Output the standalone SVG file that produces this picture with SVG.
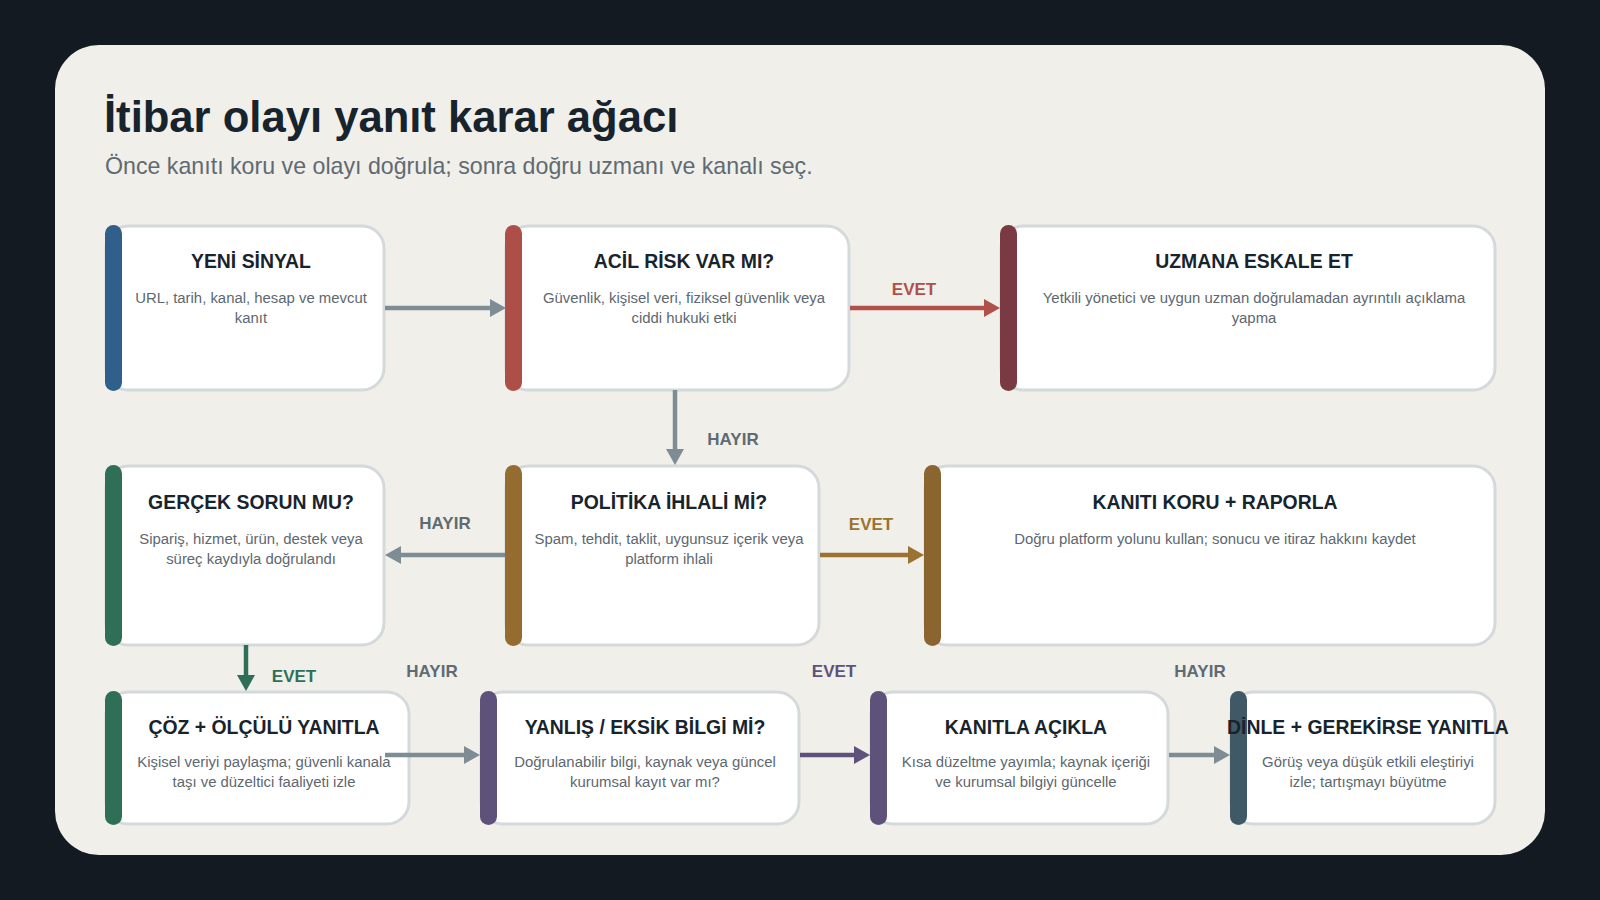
<svg xmlns="http://www.w3.org/2000/svg" width="1600" height="900" viewBox="0 0 1600 900">
<style>
.bg{fill:#131a22}
.panel{fill:#f1efea}
.card{fill:#ffffff;stroke:#d4d9dc;stroke-width:3}
.ttl{font-family:"Liberation Sans",Arial,sans-serif;font-weight:700;font-size:43.6px;fill:#17242d}
.sub{font-family:"Liberation Sans",Arial,sans-serif;font-size:23.2px;fill:#5f6a72}
.nt{font-family:"Liberation Sans",Arial,sans-serif;font-weight:700;font-size:19.4px;fill:#17242d;text-anchor:middle}
.nd{font-family:"Liberation Sans",Arial,sans-serif;font-size:14.9px;fill:#5d6870;text-anchor:middle}
.lbl{font-family:"Liberation Sans",Arial,sans-serif;font-weight:700;font-size:17px;text-anchor:middle}
.e{fill:none;stroke-width:4.5}
.g{stroke:#7e8d93}.gt{fill:#5f6b73}
.r{stroke:#b0504a}.rt{fill:#b0504a}
.o{stroke:#9a7232}.ot{fill:#9a7232}
.gr{stroke:#2f6f58}.grt{fill:#2f6f58}
.p{stroke:#5e527a}.pt{fill:#5e527a}
</style>
<defs>
<marker id="mg" markerUnits="userSpaceOnUse" markerWidth="16" markerHeight="18" refX="0" refY="9" orient="auto"><path d="M0,0 L16,9 L0,18 z" fill="#7e8d93"/></marker>
<marker id="mr" markerUnits="userSpaceOnUse" markerWidth="16" markerHeight="18" refX="0" refY="9" orient="auto"><path d="M0,0 L16,9 L0,18 z" fill="#b0504a"/></marker>
<marker id="mo" markerUnits="userSpaceOnUse" markerWidth="16" markerHeight="18" refX="0" refY="9" orient="auto"><path d="M0,0 L16,9 L0,18 z" fill="#9a7232"/></marker>
<marker id="mgr" markerUnits="userSpaceOnUse" markerWidth="16" markerHeight="18" refX="0" refY="9" orient="auto"><path d="M0,0 L16,9 L0,18 z" fill="#2f6f58"/></marker>
<marker id="mp" markerUnits="userSpaceOnUse" markerWidth="16" markerHeight="18" refX="0" refY="9" orient="auto"><path d="M0,0 L16,9 L0,18 z" fill="#5e527a"/></marker>
</defs>
<rect class="bg" x="0" y="0" width="1600" height="900"/>
<rect class="panel" x="55" y="45" width="1490" height="810" rx="44"/>
<text class="ttl" x="104" y="132">İtibar olayı yanıt karar ağacı</text>
<text class="sub" x="105" y="174">Önce kanıtı koru ve olayı doğrula; sonra doğru uzmanı ve kanalı seç.</text>

<g id="yeni-sinyal">
<rect class="card" x="106" y="226" width="278" height="164" rx="22"/>
<rect x="105" y="225" width="17" height="166" rx="8.5" fill="#2f5f8a"/>
<text class="nt" x="251" y="268">YENİ SİNYAL</text>
<text class="nd" x="251" y="303">URL, tarih, kanal, hesap ve mevcut</text>
<text class="nd" x="251" y="323">kanıt</text>
</g>
<g id="acil-risk">
<rect class="card" x="506" y="226" width="343" height="164" rx="22"/>
<rect x="505" y="225" width="17" height="166" rx="8.5" fill="#ad4f48"/>
<text class="nt" x="684" y="268">ACİL RİSK VAR MI?</text>
<text class="nd" x="684" y="303">Güvenlik, kişisel veri, fiziksel güvenlik veya</text>
<text class="nd" x="684" y="323">ciddi hukuki etki</text>
</g>
<g id="uzmana-eskale">
<rect class="card" x="1001" y="226" width="494" height="164" rx="22"/>
<rect x="1000" y="225" width="17" height="166" rx="8.5" fill="#7a3a44"/>
<text class="nt" x="1254" y="268">UZMANA ESKALE ET</text>
<text class="nd" x="1254" y="303">Yetkili yönetici ve uygun uzman doğrulamadan ayrıntılı açıklama</text>
<text class="nd" x="1254" y="323">yapma</text>
</g>
<g id="gercek-sorun">
<rect class="card" x="106" y="466" width="278" height="179" rx="22"/>
<rect x="105" y="465" width="17" height="181" rx="8.5" fill="#2f6f58"/>
<text class="nt" x="251" y="509">GERÇEK SORUN MU?</text>
<text class="nd" x="251" y="544">Sipariş, hizmet, ürün, destek veya</text>
<text class="nd" x="251" y="564">süreç kaydıyla doğrulandı</text>
</g>
<g id="politika-ihlali">
<rect class="card" x="506" y="466" width="313" height="179" rx="22"/>
<rect x="505" y="465" width="17" height="181" rx="8.5" fill="#946c30"/>
<text class="nt" x="669" y="509">POLİTİKA İHLALİ Mİ?</text>
<text class="nd" x="669" y="544">Spam, tehdit, taklit, uygunsuz içerik veya</text>
<text class="nd" x="669" y="564">platform ihlali</text>
</g>
<g id="kaniti-koru">
<rect class="card" x="925" y="466" width="570" height="179" rx="22"/>
<rect x="924" y="465" width="17" height="181" rx="8.5" fill="#8b6530"/>
<text class="nt" x="1215" y="509">KANITI KORU + RAPORLA</text>
<text class="nd" x="1215" y="544">Doğru platform yolunu kullan; sonucu ve itiraz hakkını kaydet</text>
</g>
<g id="coz-yanitla">
<rect class="card" x="106" y="692" width="303" height="132" rx="22"/>
<rect x="105" y="691" width="17" height="134" rx="8.5" fill="#2f6f58"/>
<text class="nt" x="264" y="734">ÇÖZ + ÖLÇÜLÜ YANITLA</text>
<text class="nd" x="264" y="767">Kişisel veriyi paylaşma; güvenli kanala</text>
<text class="nd" x="264" y="787">taşı ve düzeltici faaliyeti izle</text>
</g>
<g id="yanlis-bilgi">
<rect class="card" x="481" y="692" width="318" height="132" rx="22"/>
<rect x="480" y="691" width="17" height="134" rx="8.5" fill="#5e527a"/>
<text class="nt" x="645" y="734">YANLIŞ / EKSİK BİLGİ Mİ?</text>
<text class="nd" x="645" y="767">Doğrulanabilir bilgi, kaynak veya güncel</text>
<text class="nd" x="645" y="787">kurumsal kayıt var mı?</text>
</g>
<g id="kanitla-acikla">
<rect class="card" x="871" y="692" width="297" height="132" rx="22"/>
<rect x="870" y="691" width="17" height="134" rx="8.5" fill="#5e527a"/>
<text class="nt" x="1026" y="734">KANITLA AÇIKLA</text>
<text class="nd" x="1026" y="767">Kısa düzeltme yayımla; kaynak içeriği</text>
<text class="nd" x="1026" y="787">ve kurumsal bilgiyi güncelle</text>
</g>
<g id="dinle-yanitla">
<rect class="card" x="1231" y="692" width="264" height="132" rx="22"/>
<rect x="1230" y="691" width="17" height="134" rx="8.5" fill="#3f5a66"/>
<text class="nt" x="1368" y="734">DİNLE + GEREKİRSE YANITLA</text>
<text class="nd" x="1368" y="767">Görüş veya düşük etkili eleştiriyi</text>
<text class="nd" x="1368" y="787">izle; tartışmayı büyütme</text>
</g>

<g id="connectors">
<line class="e g" x1="385" y1="308" x2="490" y2="308" marker-end="url(#mg)"/>
<line class="e r" x1="850" y1="308" x2="984" y2="308" marker-end="url(#mr)"/>
<text class="lbl rt" x="914" y="295">EVET</text>
<line class="e g" x1="675" y1="390" x2="675" y2="449" marker-end="url(#mg)"/>
<text class="lbl gt" x="733" y="445">HAYIR</text>
<line class="e g" x1="505" y1="555" x2="401" y2="555" marker-end="url(#mg)"/>
<text class="lbl gt" x="445" y="529">HAYIR</text>
<line class="e o" x1="820" y1="555" x2="908" y2="555" marker-end="url(#mo)"/>
<text class="lbl ot" x="871" y="530">EVET</text>
<line class="e gr" x1="246" y1="645" x2="246" y2="675" marker-end="url(#mgr)"/>
<text class="lbl grt" x="294" y="682">EVET</text>
<line class="e g" x1="385" y1="755" x2="464" y2="755" marker-end="url(#mg)"/>
<text class="lbl gt" x="432" y="677">HAYIR</text>
<line class="e p" x1="800" y1="755" x2="854" y2="755" marker-end="url(#mp)"/>
<text class="lbl pt" x="834" y="677">EVET</text>
<line class="e g" x1="1169" y1="755" x2="1214" y2="755" marker-end="url(#mg)"/>
<text class="lbl gt" x="1200" y="677">HAYIR</text>
</g>
</svg>
